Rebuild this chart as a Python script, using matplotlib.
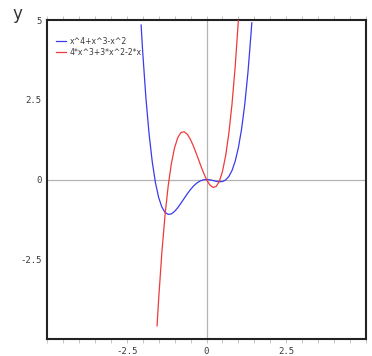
import matplotlib
matplotlib.use("Agg")
import matplotlib.pyplot as plt
from matplotlib.ticker import MultipleLocator, FixedLocator

# Series 1: x^4+x^3-x^2
x_blue = [-2.05, -2.0, -1.9, -1.8, -1.7, -1.6, -1.5, -1.4, -1.3, -1.2, -1.1, -1.0,
          -0.9, -0.8, -0.7, -0.6, -0.5, -0.4, -0.3, -0.2, -0.1, 0.0, 0.1, 0.2,
          0.3, 0.4, 0.5, 0.6, 0.7, 0.8, 0.9, 1.0, 1.1, 1.2, 1.3, 1.4, 1.42]
y_blue = [4.843, 4.0, 2.563, 1.426, 0.549, -0.102, -0.563, -0.862, -1.031, -1.094,
          -1.077, -1.0, -0.883, -0.742, -0.593, -0.446, -0.313, -0.198, -0.109,
          -0.046, -0.011, 0.0, -0.009, -0.030, -0.055, -0.070, -0.063, -0.014,
          0.093, 0.282, 0.575, 1.0, 1.585, 2.362, 3.363, 4.626, 4.913]

# Series 2: 4*x^3+3*x^2-2*x
x_red = [-1.55, -1.5, -1.4, -1.3, -1.2, -1.1, -1.0, -0.9, -0.8, -0.7, -0.6, -0.5,
         -0.4, -0.3, -0.2, -0.1, 0.0, 0.1, 0.2, 0.3, 0.4, 0.5, 0.6, 0.7, 0.8,
         0.9, 1.0]
y_red = [-4.588, -3.75, -2.296, -1.118, -0.192, 0.506, 1.0, 1.314, 1.472, 1.498,
         1.416, 1.25, 1.024, 0.762, 0.488, 0.226, 0.0, -0.166, -0.248, -0.222,
         -0.064, 0.25, 0.744, 1.442, 2.368, 3.546, 5.0]

labels = ["x^4+x^3-x^2", "4*x^3+3*x^2-2*x"]
x_ticklabels = [-2.5, 0, 2.5]
y_ticklabels = [-2.5, 0, 2.5, 5]

W, H = 372, 356
fig = plt.figure(figsize=(W / 100, H / 100), dpi=100)
ax = fig.add_axes([47 / W, (H - 339) / H, (366 - 47) / W, (339 - 20) / H])
ax.set_xlim(-5, 5)
ax.set_ylim(-5, 5)

ax.axhline(0, color="#b4b4b4", lw=0.9, zorder=1)
ax.axvline(0, color="#b4b4b4", lw=0.9, zorder=1)

ax.plot(x_blue, y_blue, color="#3a3af0", lw=0.9, label=labels[0], zorder=3)
ax.plot(x_red, y_red, color="#f03a3a", lw=0.9, label=labels[1], zorder=3)

for s in ax.spines.values():
    s.set_linewidth(1.5)
    s.set_color("#222222")

ax.xaxis.set_major_locator(FixedLocator(x_ticklabels))
ax.xaxis.set_minor_locator(MultipleLocator(0.5))
ax.yaxis.set_major_locator(FixedLocator(y_ticklabels))
ax.set_xticklabels(["-2.5", "0", "2.5"])
ax.set_yticklabels(["-2.5", "0", "2.5", "5"])
ax.tick_params(axis="x", which="both", direction="out", top=True, bottom=True,
               length=3, width=0.7, color="#c4c4c4", labelsize=6.5,
               labelcolor="#3a3a3a", pad=3)
ax.tick_params(axis="y", which="both", length=0, labelsize=6.5,
               labelcolor="#3a3a3a", pad=4)
for t in ax.get_xticklabels() + ax.get_yticklabels():
    t.set_family("DejaVu Sans Mono")

fig.text(12 / W, 1 - 14 / H, "y", fontsize=12, color="#333333",
         ha="left", va="center")

leg = ax.legend(loc="upper left", frameon=False, fontsize=5.6, handlelength=1.3,
                handletextpad=0.5, labelspacing=0.3,
                bbox_to_anchor=(0.01, 0.965), borderaxespad=0.3)
for t in leg.get_texts():
    t.set_color("#3a3a3a")

fig.savefig("out.png", dpi=100)
